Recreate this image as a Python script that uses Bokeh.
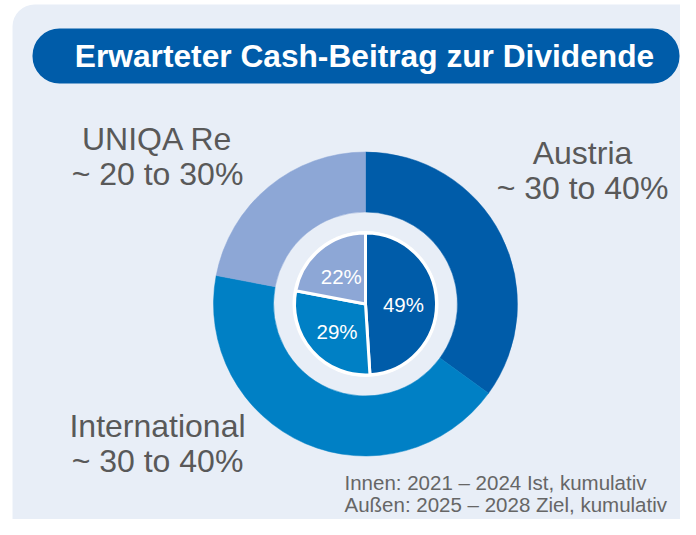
import numpy as np
from bokeh.plotting import figure
from bokeh.models import Range1d, BoxAnnotation, ColumnDataSource
from bokeh.core.properties import value
from bokeh.embed import file_html
from bokeh.resources import INLINE

# ---- data ----
segments = ["Austria", "International", "UNIQA Re"]
outer_share = [35, 43, 22]          # 2025-2028 target (outer ring)
inner_share = [49, 29, 22]          # 2021-2024 actual (inner pie)
inner_labels = ["49%", "29%", "22%"]
outer_line1 = ["Austria", "International", "UNIQA Re"]
outer_line2 = ["~ 30 to 40%", "~ 30 to 40%", "~ 20 to 30%"]
colors = ["#005CA9", "#0080C5", "#8DA7D6"]

title = "Erwarteter Cash-Beitrag zur Dividende"
foot1 = "Innen: 2021 \u2013 2024 Ist, kumulativ"
foot2 = "Au\u00dfen: 2025 \u2013 2028 Ziel, kumulativ"

W, H = 680, 519
def Y(py):
    return H - py

FONT = value("Liberation Sans")
GREY = "#595959"
PANEL = "#E8EEF7"

p = figure(width=W, height=H, output_backend="svg", toolbar_location=None,
           x_range=Range1d(0, W), y_range=Range1d(0, H), min_border=0,
           background_fill_color="white", border_fill_color="white")
p.axis.visible = False
p.grid.visible = False
p.outline_line_color = None

# panel background
p.add_layout(BoxAnnotation(left=12, right=760, top=Y(4), bottom=-80, border_radius=22,
                           fill_color=PANEL, fill_alpha=1, line_alpha=0, level="underlay"))
# title pill
p.add_layout(BoxAnnotation(left=32, right=679, top=Y(28), bottom=Y(83), border_radius=27,
                           fill_color="#005CA9", fill_alpha=1, line_alpha=0, level="underlay"))
p.text(x=[364], y=[Y(55)], text=[title], text_font=FONT, text_font_size="31.7px",
       text_font_style="bold", text_color="white", text_align="center", text_baseline="middle")

cx, cy = 365, Y(303.5)

def angles(shares):
    s = np.array(shares, dtype=float)
    frac = s / s.sum()
    cum = np.concatenate([[0], np.cumsum(frac)])
    start = np.pi / 2 - 2 * np.pi * cum[:-1]
    end = np.pi / 2 - 2 * np.pi * cum[1:]
    return start, end

os_, oe_ = angles(outer_share)
src_o = ColumnDataSource(dict(start=os_, end=oe_, color=colors, name=segments))
p.annular_wedge(x=cx, y=cy, inner_radius=92, outer_radius=152, start_angle="start",
                end_angle="end", direction="clock", fill_color="color", line_color="color",
                line_width=0.5, source=src_o)

# inner pie
p.circle(x=[cx], y=[cy], radius=73, fill_color="white", line_color=None)
is_, ie_ = angles(inner_share)
mid = (is_ + ie_) / 2
src_i = ColumnDataSource(dict(start=is_, end=ie_, color=colors,
                              lx=cx + 38 * np.cos(mid), ly=cy - 2 + 38 * np.sin(mid),
                              lab=inner_labels))
p.wedge(x=cx, y=cy, radius=71, start_angle="start", end_angle="end", direction="clock",
        fill_color="color", line_color="white", line_width=3, source=src_i)
p.text(x="lx", y="ly", text="lab", text_font=FONT, text_font_size="20.5px", text_color="white",
       text_align="center", text_baseline="middle", source=src_i)

# outer labels
lx = [582, 157, 157]
ly1 = [Y(152), Y(425.5), Y(138)]
ly2 = [Y(187), Y(460.5), Y(173)]
p.text(x=lx, y=ly1, text=outer_line1, text_font=FONT, text_font_size="32px",
       text_color=GREY, text_align="center", text_baseline="middle")
p.text(x=lx, y=ly2, text=outer_line2, text_font=FONT, text_font_size="32px",
       text_color=GREY, text_align="center", text_baseline="middle")

# footnote
p.text(x=[344, 344], y=[Y(482), Y(504)], text=[foot1, foot2], text_font=FONT,
       text_font_size="20.5px", text_color="#666666", text_align="left", text_baseline="middle")

open("out.html", "w").write(file_html(p, INLINE))
